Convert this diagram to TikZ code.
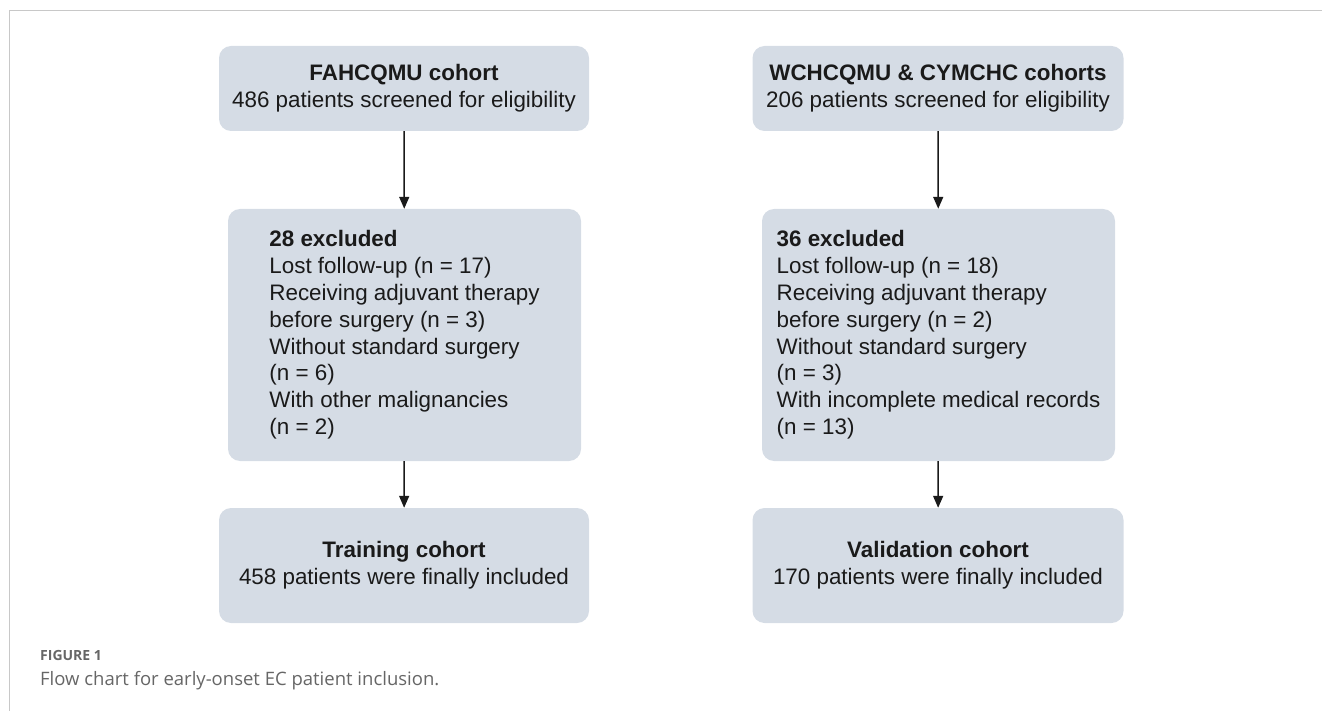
\documentclass[tikz,border=0pt]{standalone}
\usepackage{fontspec}
\setmainfont{Liberation Sans}
\newfontfamily\capfont{Open Sans}
\usetikzlibrary{arrows.meta}
\definecolor{boxfill}{HTML}{D5DCE5}
\definecolor{textcol}{HTML}{1A1A1A}
\definecolor{capgray}{HTML}{666666}
\definecolor{framecol}{HTML}{C8C8C8}
\begin{document}
\begin{tikzpicture}[x=1pt,y=-1pt,
  box/.style={fill=boxfill, rounded corners=12pt, inner sep=0pt, text=textcol,
    font=\fontsize{22.4}{26.8}\selectfont},
  arr/.style={-{Triangle[length=12pt,width=10pt]}, line width=1.5pt, draw=textcol}]
\useasboundingbox (0,0) rectangle (1322,711);
\draw[framecol, line width=1pt] (9,711) -- (9,11) -- (1322,11);
% left column
\node[box, align=center, minimum width=370pt, minimum height=85pt] (t1) at (404,88.5)
  {\textbf{FAHCQMU cohort}\\486 patients screened for eligibility};
\node[box, align=left, minimum width=353pt, minimum height=252pt] (m1) at (404.5,335)
  {\textbf{28 excluded}\\Lost follow-up (n = 17)\\Receiving adjuvant therapy\\before surgery (n = 3)\\Without standard surgery\\(n = 6)\\With other malignancies\\(n = 2)};
\node[box, align=center, minimum width=370pt, minimum height=115pt] (b1) at (404,565.5)
  {\textbf{Training cohort}\\458 patients were finally included};
% right column
\node[box, align=center, minimum width=371pt, minimum height=85pt] (t2) at (938,88.5)
  {\textbf{WCHCQMU \& CYMCHC cohorts}\\206 patients screened for eligibility};
\node[box, align=left, minimum width=353pt, minimum height=252pt] (m2) at (938.5,335)
  {\textbf{36 excluded}\\Lost follow-up (n = 18)\\Receiving adjuvant therapy\\before surgery (n = 2)\\Without standard surgery\\(n = 3)\\With incomplete medical records\\(n = 13)};
\node[box, align=center, minimum width=371pt, minimum height=115pt] (b2) at (938,565.5)
  {\textbf{Validation cohort}\\170 patients were finally included};
% arrows
\draw[arr] (t1) -- (m1);
\draw[arr] (m1) -- (b1);
\draw[arr] (t2) -- (m2);
\draw[arr] (m2) -- (b2);
% caption
\node[anchor=base west, inner sep=0pt, text=capgray, font=\capfont\bfseries\fontsize{14}{16}\selectfont] (figlabel) at (40,660) {FIGURE 1};
\node[anchor=base west, inner sep=0pt, text=capgray, font=\capfont\fontsize{18.5}{21}\selectfont] (caption) at (40,685) {Flow chart for early-onset EC patient inclusion.};
\end{tikzpicture}
\end{document}
